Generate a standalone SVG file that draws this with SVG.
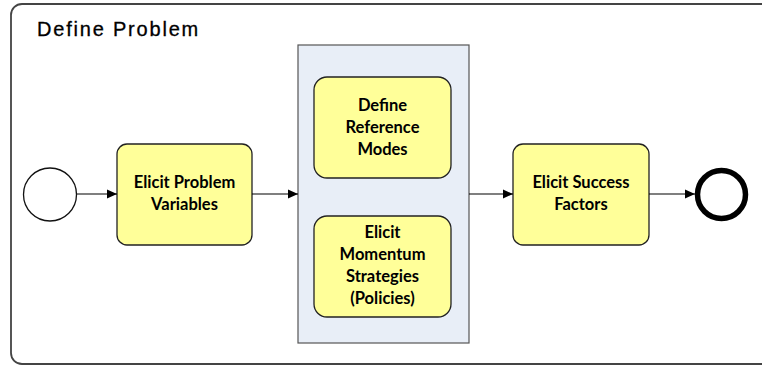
<svg xmlns="http://www.w3.org/2000/svg" width="762" height="366" viewBox="0 0 762 366">
<style>
.task{fill:#FFFF99;stroke:#222;stroke-width:1.3}
.lbl{font-family:Lato,"Liberation Sans",sans-serif;font-weight:bold;font-size:16.5px;fill:#000;text-anchor:middle}
.conn{stroke:#000;stroke-width:1.2;fill:none}
</style>
<defs>
<marker id="arr" markerWidth="10" markerHeight="10" refX="10" refY="5" orient="auto" markerUnits="userSpaceOnUse">
<path d="M0,0.5 L10,5 L0,9.5 Z" fill="#000"/>
</marker>
</defs>
<rect width="762" height="366" fill="#fff"/>
<g id="pool">
<rect x="11" y="4" width="790" height="360" rx="11" ry="11" fill="#fff" stroke="#444" stroke-width="1.8"/>
<text x="37" y="36" font-family="'Liberation Sans',Arial,sans-serif" font-size="20" letter-spacing="1.8" fill="#000" stroke="#000" stroke-width="0.3">Define Problem</text>
</g>
<g id="start">
<circle cx="50" cy="194.5" r="26.5" fill="#fff" stroke="#111" stroke-width="1.3"/>
</g>
<g id="task1">
<rect class="task" x="117" y="144" width="135" height="101" rx="10"/>
<text class="lbl" x="184.5" y="188">Elicit Problem</text>
<text class="lbl" x="184.5" y="210">Variables</text>
</g>
<g id="subprocess">
<rect x="298" y="45" width="171" height="298" fill="#E8EEF7" stroke="#555" stroke-width="1.2"/>
</g>
<g id="task2">
<rect class="task" x="314" y="77" width="137" height="101" rx="13"/>
<text class="lbl" x="382.5" y="111">Define</text>
<text class="lbl" x="382.5" y="133">Reference</text>
<text class="lbl" x="382.5" y="155">Modes</text>
</g>
<g id="task3">
<rect class="task" x="314" y="216" width="137" height="101" rx="13"/>
<text class="lbl" x="382.5" y="238">Elicit</text>
<text class="lbl" x="382.5" y="260">Momentum</text>
<text class="lbl" x="382.5" y="282">Strategies</text>
<text class="lbl" x="382.5" y="304">(Policies)</text>
</g>
<g id="task4">
<rect class="task" x="513" y="144" width="136" height="101" rx="10"/>
<text class="lbl" x="581" y="188">Elicit Success</text>
<text class="lbl" x="581" y="210">Factors</text>
</g>
<g id="end">
<circle cx="721.5" cy="194.5" r="24" fill="#fff" stroke="#000" stroke-width="5.5"/>
</g>
<g id="connectors">
<line class="conn" x1="77" y1="194" x2="117" y2="194" marker-end="url(#arr)"/>
<line class="conn" x1="252" y1="194" x2="298" y2="194" marker-end="url(#arr)"/>
<line class="conn" x1="469" y1="194" x2="513" y2="194" marker-end="url(#arr)"/>
<line class="conn" x1="649" y1="194" x2="695" y2="194" marker-end="url(#arr)"/>
</g>
</svg>
